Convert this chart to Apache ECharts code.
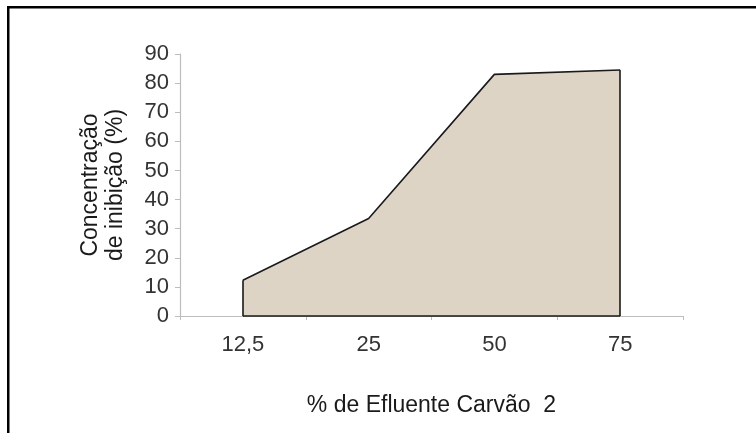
<!DOCTYPE html>
<html><head><meta charset="utf-8">
<script src="https://cdn.jsdelivr.net/npm/echarts@6/dist/echarts.min.js"></script>
<style>html,body{margin:0;padding:0;background:#fff}#c{width:756px;height:433px}</style>
</head><body><div id="c"></div>
<script>
const categories = ['12,5', '25', '50', '75'];
const inhibition = [12.3, 33.5, 83, 84.5];
const yTicks = {min: 0, max: 90, interval: 10};

const chart = echarts.init(document.getElementById('c'), null, {renderer: 'canvas'});
const first = categories[0], last = categories[categories.length - 1];
chart.setOption({
  animation: false,
  backgroundColor: '#fff',
  textStyle: {fontFamily: 'Liberation Sans, Arial, sans-serif'},
  graphic: [
    {type: 'rect', shape: {x: 8, y: 6, width: 760, height: 2.5}, style: {fill: '#000'}, z: 10},
    {type: 'rect', shape: {x: 7, y: 6, width: 2.5, height: 440}, style: {fill: '#000'}, z: 10}
  ],
  grid: {left: 180, right: 73, top: 54, bottom: 117},
  xAxis: {
    type: 'category',
    data: categories,
    boundaryGap: true,
    name: '% de Efluente Carvão  2',
    nameLocation: 'middle',
    nameGap: 78,
    nameTextStyle: {fontSize: 23, color: '#1a1a1a'},
    axisLine: {lineStyle: {color: '#bdbdbd', width: 1.2}},
    axisTick: {show: true, length: 4, lineStyle: {color: '#bdbdbd'}},
    axisLabel: {fontSize: 22, color: '#333', margin: 18}
  },
  yAxis: {
    type: 'value',
    min: yTicks.min, max: yTicks.max, interval: yTicks.interval,
    name: 'Concentração\nde inibição (%)',
    nameLocation: 'middle',
    nameRotate: 90,
    nameGap: 52,
    nameTextStyle: {fontSize: 23, color: '#1a1a1a', lineHeight: 25},
    axisLine: {show: true, lineStyle: {color: '#bdbdbd', width: 1.2}},
    axisTick: {show: true, length: 5, lineStyle: {color: '#bdbdbd'}},
    splitLine: {show: false},
    axisLabel: {fontSize: 22, color: '#333', margin: 11}
  },
  series: [{
    type: 'line',
    data: inhibition,
    symbol: 'none',
    lineStyle: {color: '#1a1a1a', width: 1.6},
    areaStyle: {color: '#ddd4c6', opacity: 1},
    markLine: {
      silent: true,
      symbol: 'none',
      label: {show: false},
      lineStyle: {color: '#1a1a1a', width: 1.6, type: 'solid'},
      data: [
        [{coord: [first, 0]}, {coord: [first, inhibition[0]]}],
        [{coord: [last, 0]}, {coord: [last, inhibition[inhibition.length - 1]]}],
        [{coord: [first, 0]}, {coord: [last, 0]}]
      ]
    }
  }]
});
</script></body></html>
